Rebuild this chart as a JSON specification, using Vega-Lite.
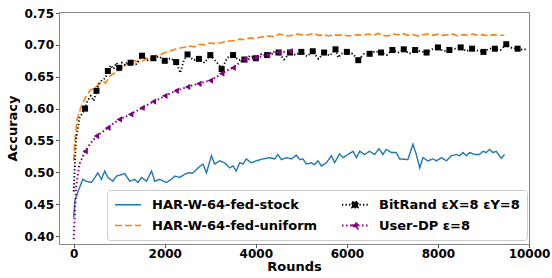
{
  "$schema": "https://vega.github.io/schema/vega-lite/v6.json",
  "width": 470,
  "height": 232,
  "autosize": "none",
  "padding": {"left": 59, "top": 12, "right": 23, "bottom": 34},
  "config": {
    "view": {"stroke": "#888888", "strokeWidth": 1},
    "font": "DejaVu Sans",
    "axis": {
      "grid": false, "domain": false, "tickColor": "#555555", "tickSize": 3.5,
      "labelFont": "DejaVu Sans", "labelFontWeight": "bold", "labelFontSize": 12, "labelColor": "#000000",
      "titleFont": "DejaVu Sans", "titleFontWeight": "bold", "titleFontSize": 13, "titleColor": "#000000"
    }
  },
  "data": {
    "values": [
      {"series": "HAR-W-64-fed-stock", "round": 0, "accuracy": 0.429},
      {"series": "HAR-W-64-fed-stock", "round": 25, "accuracy": 0.455},
      {"series": "HAR-W-64-fed-stock", "round": 100, "accuracy": 0.471},
      {"series": "HAR-W-64-fed-stock", "round": 200, "accuracy": 0.489},
      {"series": "HAR-W-64-fed-stock", "round": 275, "accuracy": 0.486},
      {"series": "HAR-W-64-fed-stock", "round": 390, "accuracy": 0.484},
      {"series": "HAR-W-64-fed-stock", "round": 530, "accuracy": 0.499},
      {"series": "HAR-W-64-fed-stock", "round": 610, "accuracy": 0.489},
      {"series": "HAR-W-64-fed-stock", "round": 680, "accuracy": 0.502},
      {"series": "HAR-W-64-fed-stock", "round": 750, "accuracy": 0.492},
      {"series": "HAR-W-64-fed-stock", "round": 860, "accuracy": 0.486},
      {"series": "HAR-W-64-fed-stock", "round": 940, "accuracy": 0.494},
      {"series": "HAR-W-64-fed-stock", "round": 1120, "accuracy": 0.498},
      {"series": "HAR-W-64-fed-stock", "round": 1230, "accuracy": 0.486},
      {"series": "HAR-W-64-fed-stock", "round": 1340, "accuracy": 0.489},
      {"series": "HAR-W-64-fed-stock", "round": 1410, "accuracy": 0.484},
      {"series": "HAR-W-64-fed-stock", "round": 1490, "accuracy": 0.492},
      {"series": "HAR-W-64-fed-stock", "round": 1600, "accuracy": 0.486},
      {"series": "HAR-W-64-fed-stock", "round": 1710, "accuracy": 0.502},
      {"series": "HAR-W-64-fed-stock", "round": 1780, "accuracy": 0.486},
      {"series": "HAR-W-64-fed-stock", "round": 1890, "accuracy": 0.489},
      {"series": "HAR-W-64-fed-stock", "round": 2035, "accuracy": 0.484},
      {"series": "HAR-W-64-fed-stock", "round": 2145, "accuracy": 0.489},
      {"series": "HAR-W-64-fed-stock", "round": 2220, "accuracy": 0.494},
      {"series": "HAR-W-64-fed-stock", "round": 2330, "accuracy": 0.492},
      {"series": "HAR-W-64-fed-stock", "round": 2440, "accuracy": 0.497},
      {"series": "HAR-W-64-fed-stock", "round": 2510, "accuracy": 0.499},
      {"series": "HAR-W-64-fed-stock", "round": 2620, "accuracy": 0.499},
      {"series": "HAR-W-64-fed-stock", "round": 2730, "accuracy": 0.507},
      {"series": "HAR-W-64-fed-stock", "round": 2840, "accuracy": 0.513},
      {"series": "HAR-W-64-fed-stock", "round": 2915, "accuracy": 0.499},
      {"series": "HAR-W-64-fed-stock", "round": 3025, "accuracy": 0.526},
      {"series": "HAR-W-64-fed-stock", "round": 3095, "accuracy": 0.513},
      {"series": "HAR-W-64-fed-stock", "round": 3205, "accuracy": 0.518},
      {"series": "HAR-W-64-fed-stock", "round": 3315, "accuracy": 0.515},
      {"series": "HAR-W-64-fed-stock", "round": 3425, "accuracy": 0.507},
      {"series": "HAR-W-64-fed-stock", "round": 3500, "accuracy": 0.51},
      {"series": "HAR-W-64-fed-stock", "round": 3570, "accuracy": 0.502},
      {"series": "HAR-W-64-fed-stock", "round": 3645, "accuracy": 0.515},
      {"series": "HAR-W-64-fed-stock", "round": 3720, "accuracy": 0.513},
      {"series": "HAR-W-64-fed-stock", "round": 3790, "accuracy": 0.521},
      {"series": "HAR-W-64-fed-stock", "round": 3900, "accuracy": 0.515},
      {"series": "HAR-W-64-fed-stock", "round": 4010, "accuracy": 0.518},
      {"series": "HAR-W-64-fed-stock", "round": 4155, "accuracy": 0.521},
      {"series": "HAR-W-64-fed-stock", "round": 4305, "accuracy": 0.523},
      {"series": "HAR-W-64-fed-stock", "round": 4415, "accuracy": 0.521},
      {"series": "HAR-W-64-fed-stock", "round": 4485, "accuracy": 0.528},
      {"series": "HAR-W-64-fed-stock", "round": 4560, "accuracy": 0.52},
      {"series": "HAR-W-64-fed-stock", "round": 4670, "accuracy": 0.523},
      {"series": "HAR-W-64-fed-stock", "round": 4780, "accuracy": 0.521},
      {"series": "HAR-W-64-fed-stock", "round": 4890, "accuracy": 0.527},
      {"series": "HAR-W-64-fed-stock", "round": 4965, "accuracy": 0.52},
      {"series": "HAR-W-64-fed-stock", "round": 5035, "accuracy": 0.521},
      {"series": "HAR-W-64-fed-stock", "round": 5110, "accuracy": 0.513},
      {"series": "HAR-W-64-fed-stock", "round": 5220, "accuracy": 0.515},
      {"series": "HAR-W-64-fed-stock", "round": 5290, "accuracy": 0.512},
      {"series": "HAR-W-64-fed-stock", "round": 5365, "accuracy": 0.518},
      {"series": "HAR-W-64-fed-stock", "round": 5440, "accuracy": 0.51},
      {"series": "HAR-W-64-fed-stock", "round": 5550, "accuracy": 0.515},
      {"series": "HAR-W-64-fed-stock", "round": 5660, "accuracy": 0.526},
      {"series": "HAR-W-64-fed-stock", "round": 5730, "accuracy": 0.515},
      {"series": "HAR-W-64-fed-stock", "round": 5840, "accuracy": 0.529},
      {"series": "HAR-W-64-fed-stock", "round": 5915, "accuracy": 0.523},
      {"series": "HAR-W-64-fed-stock", "round": 6025, "accuracy": 0.528},
      {"series": "HAR-W-64-fed-stock", "round": 6135, "accuracy": 0.533},
      {"series": "HAR-W-64-fed-stock", "round": 6210, "accuracy": 0.523},
      {"series": "HAR-W-64-fed-stock", "round": 6280, "accuracy": 0.533},
      {"series": "HAR-W-64-fed-stock", "round": 6390, "accuracy": 0.528},
      {"series": "HAR-W-64-fed-stock", "round": 6500, "accuracy": 0.533},
      {"series": "HAR-W-64-fed-stock", "round": 6610, "accuracy": 0.528},
      {"series": "HAR-W-64-fed-stock", "round": 6705, "accuracy": 0.537},
      {"series": "HAR-W-64-fed-stock", "round": 6790, "accuracy": 0.528},
      {"series": "HAR-W-64-fed-stock", "round": 6865, "accuracy": 0.536},
      {"series": "HAR-W-64-fed-stock", "round": 6975, "accuracy": 0.531},
      {"series": "HAR-W-64-fed-stock", "round": 7085, "accuracy": 0.531},
      {"series": "HAR-W-64-fed-stock", "round": 7160, "accuracy": 0.521},
      {"series": "HAR-W-64-fed-stock", "round": 7340, "accuracy": 0.52},
      {"series": "HAR-W-64-fed-stock", "round": 7450, "accuracy": 0.544},
      {"series": "HAR-W-64-fed-stock", "round": 7525, "accuracy": 0.528},
      {"series": "HAR-W-64-fed-stock", "round": 7600, "accuracy": 0.507},
      {"series": "HAR-W-64-fed-stock", "round": 7670, "accuracy": 0.523},
      {"series": "HAR-W-64-fed-stock", "round": 7780, "accuracy": 0.518},
      {"series": "HAR-W-64-fed-stock", "round": 7890, "accuracy": 0.521},
      {"series": "HAR-W-64-fed-stock", "round": 7965, "accuracy": 0.518},
      {"series": "HAR-W-64-fed-stock", "round": 8075, "accuracy": 0.523},
      {"series": "HAR-W-64-fed-stock", "round": 8185, "accuracy": 0.518},
      {"series": "HAR-W-64-fed-stock", "round": 8295, "accuracy": 0.526},
      {"series": "HAR-W-64-fed-stock", "round": 8405, "accuracy": 0.528},
      {"series": "HAR-W-64-fed-stock", "round": 8475, "accuracy": 0.526},
      {"series": "HAR-W-64-fed-stock", "round": 8550, "accuracy": 0.531},
      {"series": "HAR-W-64-fed-stock", "round": 8625, "accuracy": 0.526},
      {"series": "HAR-W-64-fed-stock", "round": 8695, "accuracy": 0.531},
      {"series": "HAR-W-64-fed-stock", "round": 8805, "accuracy": 0.528},
      {"series": "HAR-W-64-fed-stock", "round": 8915, "accuracy": 0.528},
      {"series": "HAR-W-64-fed-stock", "round": 8990, "accuracy": 0.533},
      {"series": "HAR-W-64-fed-stock", "round": 9060, "accuracy": 0.531},
      {"series": "HAR-W-64-fed-stock", "round": 9135, "accuracy": 0.536},
      {"series": "HAR-W-64-fed-stock", "round": 9205, "accuracy": 0.531},
      {"series": "HAR-W-64-fed-stock", "round": 9280, "accuracy": 0.533},
      {"series": "HAR-W-64-fed-stock", "round": 9390, "accuracy": 0.522},
      {"series": "HAR-W-64-fed-stock", "round": 9465, "accuracy": 0.528},

      {"series": "HAR-W-64-fed-uniform", "round": 0, "accuracy": 0.518},
      {"series": "HAR-W-64-fed-uniform", "round": 25, "accuracy": 0.549},
      {"series": "HAR-W-64-fed-uniform", "round": 75, "accuracy": 0.583},
      {"series": "HAR-W-64-fed-uniform", "round": 150, "accuracy": 0.6},
      {"series": "HAR-W-64-fed-uniform", "round": 250, "accuracy": 0.617},
      {"series": "HAR-W-64-fed-uniform", "round": 350, "accuracy": 0.628},
      {"series": "HAR-W-64-fed-uniform", "round": 500, "accuracy": 0.635},
      {"series": "HAR-W-64-fed-uniform", "round": 640, "accuracy": 0.643},
      {"series": "HAR-W-64-fed-uniform", "round": 700, "accuracy": 0.64},
      {"series": "HAR-W-64-fed-uniform", "round": 790, "accuracy": 0.651},
      {"series": "HAR-W-64-fed-uniform", "round": 970, "accuracy": 0.659},
      {"series": "HAR-W-64-fed-uniform", "round": 1150, "accuracy": 0.67},
      {"series": "HAR-W-64-fed-uniform", "round": 1250, "accuracy": 0.668},
      {"series": "HAR-W-64-fed-uniform", "round": 1340, "accuracy": 0.675},
      {"series": "HAR-W-64-fed-uniform", "round": 1450, "accuracy": 0.672},
      {"series": "HAR-W-64-fed-uniform", "round": 1560, "accuracy": 0.677},
      {"series": "HAR-W-64-fed-uniform", "round": 1650, "accuracy": 0.68},
      {"series": "HAR-W-64-fed-uniform", "round": 1780, "accuracy": 0.683},
      {"series": "HAR-W-64-fed-uniform", "round": 1900, "accuracy": 0.684},
      {"series": "HAR-W-64-fed-uniform", "round": 2000, "accuracy": 0.688},
      {"series": "HAR-W-64-fed-uniform", "round": 2110, "accuracy": 0.69},
      {"series": "HAR-W-64-fed-uniform", "round": 2220, "accuracy": 0.693},
      {"series": "HAR-W-64-fed-uniform", "round": 2330, "accuracy": 0.695},
      {"series": "HAR-W-64-fed-uniform", "round": 2400, "accuracy": 0.696},
      {"series": "HAR-W-64-fed-uniform", "round": 2550, "accuracy": 0.698},
      {"series": "HAR-W-64-fed-uniform", "round": 2650, "accuracy": 0.697},
      {"series": "HAR-W-64-fed-uniform", "round": 2770, "accuracy": 0.701},
      {"series": "HAR-W-64-fed-uniform", "round": 2880, "accuracy": 0.7},
      {"series": "HAR-W-64-fed-uniform", "round": 2990, "accuracy": 0.703},
      {"series": "HAR-W-64-fed-uniform", "round": 3100, "accuracy": 0.702},
      {"series": "HAR-W-64-fed-uniform", "round": 3210, "accuracy": 0.703},
      {"series": "HAR-W-64-fed-uniform", "round": 3320, "accuracy": 0.705},
      {"series": "HAR-W-64-fed-uniform", "round": 3430, "accuracy": 0.706},
      {"series": "HAR-W-64-fed-uniform", "round": 3540, "accuracy": 0.707},
      {"series": "HAR-W-64-fed-uniform", "round": 3650, "accuracy": 0.709},
      {"series": "HAR-W-64-fed-uniform", "round": 3760, "accuracy": 0.708},
      {"series": "HAR-W-64-fed-uniform", "round": 3870, "accuracy": 0.711},
      {"series": "HAR-W-64-fed-uniform", "round": 3980, "accuracy": 0.71},
      {"series": "HAR-W-64-fed-uniform", "round": 4090, "accuracy": 0.712},
      {"series": "HAR-W-64-fed-uniform", "round": 4200, "accuracy": 0.713},
      {"series": "HAR-W-64-fed-uniform", "round": 4300, "accuracy": 0.714},
      {"series": "HAR-W-64-fed-uniform", "round": 4410, "accuracy": 0.713},
      {"series": "HAR-W-64-fed-uniform", "round": 4520, "accuracy": 0.717},
      {"series": "HAR-W-64-fed-uniform", "round": 4630, "accuracy": 0.715},
      {"series": "HAR-W-64-fed-uniform", "round": 4740, "accuracy": 0.714},
      {"series": "HAR-W-64-fed-uniform", "round": 4850, "accuracy": 0.716},
      {"series": "HAR-W-64-fed-uniform", "round": 4930, "accuracy": 0.717},
      {"series": "HAR-W-64-fed-uniform", "round": 5050, "accuracy": 0.715},
      {"series": "HAR-W-64-fed-uniform", "round": 5160, "accuracy": 0.716},
      {"series": "HAR-W-64-fed-uniform", "round": 5270, "accuracy": 0.718},
      {"series": "HAR-W-64-fed-uniform", "round": 5380, "accuracy": 0.715},
      {"series": "HAR-W-64-fed-uniform", "round": 5490, "accuracy": 0.716},
      {"series": "HAR-W-64-fed-uniform", "round": 5600, "accuracy": 0.714},
      {"series": "HAR-W-64-fed-uniform", "round": 5700, "accuracy": 0.716},
      {"series": "HAR-W-64-fed-uniform", "round": 5810, "accuracy": 0.715},
      {"series": "HAR-W-64-fed-uniform", "round": 5920, "accuracy": 0.716},
      {"series": "HAR-W-64-fed-uniform", "round": 6030, "accuracy": 0.714},
      {"series": "HAR-W-64-fed-uniform", "round": 6140, "accuracy": 0.715},
      {"series": "HAR-W-64-fed-uniform", "round": 6250, "accuracy": 0.716},
      {"series": "HAR-W-64-fed-uniform", "round": 6360, "accuracy": 0.715},
      {"series": "HAR-W-64-fed-uniform", "round": 6470, "accuracy": 0.717},
      {"series": "HAR-W-64-fed-uniform", "round": 6580, "accuracy": 0.715},
      {"series": "HAR-W-64-fed-uniform", "round": 6690, "accuracy": 0.718},
      {"series": "HAR-W-64-fed-uniform", "round": 6800, "accuracy": 0.715},
      {"series": "HAR-W-64-fed-uniform", "round": 6900, "accuracy": 0.714},
      {"series": "HAR-W-64-fed-uniform", "round": 7000, "accuracy": 0.717},
      {"series": "HAR-W-64-fed-uniform", "round": 7120, "accuracy": 0.716},
      {"series": "HAR-W-64-fed-uniform", "round": 7230, "accuracy": 0.718},
      {"series": "HAR-W-64-fed-uniform", "round": 7340, "accuracy": 0.715},
      {"series": "HAR-W-64-fed-uniform", "round": 7450, "accuracy": 0.716},
      {"series": "HAR-W-64-fed-uniform", "round": 7560, "accuracy": 0.714},
      {"series": "HAR-W-64-fed-uniform", "round": 7670, "accuracy": 0.716},
      {"series": "HAR-W-64-fed-uniform", "round": 7780, "accuracy": 0.717},
      {"series": "HAR-W-64-fed-uniform", "round": 7890, "accuracy": 0.715},
      {"series": "HAR-W-64-fed-uniform", "round": 8000, "accuracy": 0.717},
      {"series": "HAR-W-64-fed-uniform", "round": 8110, "accuracy": 0.715},
      {"series": "HAR-W-64-fed-uniform", "round": 8220, "accuracy": 0.716},
      {"series": "HAR-W-64-fed-uniform", "round": 8330, "accuracy": 0.717},
      {"series": "HAR-W-64-fed-uniform", "round": 8440, "accuracy": 0.714},
      {"series": "HAR-W-64-fed-uniform", "round": 8550, "accuracy": 0.716},
      {"series": "HAR-W-64-fed-uniform", "round": 8660, "accuracy": 0.715},
      {"series": "HAR-W-64-fed-uniform", "round": 8770, "accuracy": 0.717},
      {"series": "HAR-W-64-fed-uniform", "round": 8880, "accuracy": 0.715},
      {"series": "HAR-W-64-fed-uniform", "round": 8990, "accuracy": 0.716},
      {"series": "HAR-W-64-fed-uniform", "round": 9100, "accuracy": 0.714},
      {"series": "HAR-W-64-fed-uniform", "round": 9210, "accuracy": 0.716},
      {"series": "HAR-W-64-fed-uniform", "round": 9320, "accuracy": 0.715},
      {"series": "HAR-W-64-fed-uniform", "round": 9460, "accuracy": 0.715},

      {"series": "BitRand εX=8 εY=8", "round": 0, "accuracy": 0.47},
      {"series": "BitRand εX=8 εY=8", "round": 50, "accuracy": 0.55},
      {"series": "BitRand εX=8 εY=8", "round": 125, "accuracy": 0.585},
      {"series": "BitRand εX=8 εY=8", "round": 250, "accuracy": 0.6},
      {"series": "BitRand εX=8 εY=8", "round": 300, "accuracy": 0.612},
      {"series": "BitRand εX=8 εY=8", "round": 375, "accuracy": 0.62},
      {"series": "BitRand εX=8 εY=8", "round": 440, "accuracy": 0.612},
      {"series": "BitRand εX=8 εY=8", "round": 500, "accuracy": 0.628},
      {"series": "BitRand εX=8 εY=8", "round": 560, "accuracy": 0.64},
      {"series": "BitRand εX=8 εY=8", "round": 625, "accuracy": 0.645},
      {"series": "BitRand εX=8 εY=8", "round": 700, "accuracy": 0.648},
      {"series": "BitRand εX=8 εY=8", "round": 750, "accuracy": 0.659},
      {"series": "BitRand εX=8 εY=8", "round": 810, "accuracy": 0.668},
      {"series": "BitRand εX=8 εY=8", "round": 875, "accuracy": 0.662},
      {"series": "BitRand εX=8 εY=8", "round": 940, "accuracy": 0.672},
      {"series": "BitRand εX=8 εY=8", "round": 1000, "accuracy": 0.664},
      {"series": "BitRand εX=8 εY=8", "round": 1060, "accuracy": 0.672},
      {"series": "BitRand εX=8 εY=8", "round": 1125, "accuracy": 0.668},
      {"series": "BitRand εX=8 εY=8", "round": 1190, "accuracy": 0.674},
      {"series": "BitRand εX=8 εY=8", "round": 1250, "accuracy": 0.672},
      {"series": "BitRand εX=8 εY=8", "round": 1375, "accuracy": 0.67},
      {"series": "BitRand εX=8 εY=8", "round": 1500, "accuracy": 0.683},
      {"series": "BitRand εX=8 εY=8", "round": 1625, "accuracy": 0.676},
      {"series": "BitRand εX=8 εY=8", "round": 1750, "accuracy": 0.679},
      {"series": "BitRand εX=8 εY=8", "round": 1875, "accuracy": 0.682},
      {"series": "BitRand εX=8 εY=8", "round": 2000, "accuracy": 0.675},
      {"series": "BitRand εX=8 εY=8", "round": 2125, "accuracy": 0.679},
      {"series": "BitRand εX=8 εY=8", "round": 2250, "accuracy": 0.673},
      {"series": "BitRand εX=8 εY=8", "round": 2340, "accuracy": 0.656},
      {"series": "BitRand εX=8 εY=8", "round": 2420, "accuracy": 0.676},
      {"series": "BitRand εX=8 εY=8", "round": 2500, "accuracy": 0.685},
      {"series": "BitRand εX=8 εY=8", "round": 2625, "accuracy": 0.676},
      {"series": "BitRand εX=8 εY=8", "round": 2750, "accuracy": 0.678},
      {"series": "BitRand εX=8 εY=8", "round": 2875, "accuracy": 0.672},
      {"series": "BitRand εX=8 εY=8", "round": 3000, "accuracy": 0.684},
      {"series": "BitRand εX=8 εY=8", "round": 3125, "accuracy": 0.674},
      {"series": "BitRand εX=8 εY=8", "round": 3190, "accuracy": 0.669},
      {"series": "BitRand εX=8 εY=8", "round": 3250, "accuracy": 0.662},
      {"series": "BitRand εX=8 εY=8", "round": 3375, "accuracy": 0.68},
      {"series": "BitRand εX=8 εY=8", "round": 3500, "accuracy": 0.684},
      {"series": "BitRand εX=8 εY=8", "round": 3625, "accuracy": 0.676},
      {"series": "BitRand εX=8 εY=8", "round": 3750, "accuracy": 0.677},
      {"series": "BitRand εX=8 εY=8", "round": 3875, "accuracy": 0.683},
      {"series": "BitRand εX=8 εY=8", "round": 4000, "accuracy": 0.679},
      {"series": "BitRand εX=8 εY=8", "round": 4125, "accuracy": 0.686},
      {"series": "BitRand εX=8 εY=8", "round": 4250, "accuracy": 0.684},
      {"series": "BitRand εX=8 εY=8", "round": 4375, "accuracy": 0.689},
      {"series": "BitRand εX=8 εY=8", "round": 4500, "accuracy": 0.688},
      {"series": "BitRand εX=8 εY=8", "round": 4620, "accuracy": 0.677},
      {"series": "BitRand εX=8 εY=8", "round": 4750, "accuracy": 0.688},
      {"series": "BitRand εX=8 εY=8", "round": 4875, "accuracy": 0.684},
      {"series": "BitRand εX=8 εY=8", "round": 5000, "accuracy": 0.689},
      {"series": "BitRand εX=8 εY=8", "round": 5125, "accuracy": 0.682},
      {"series": "BitRand εX=8 εY=8", "round": 5250, "accuracy": 0.69},
      {"series": "BitRand εX=8 εY=8", "round": 5375, "accuracy": 0.678},
      {"series": "BitRand εX=8 εY=8", "round": 5500, "accuracy": 0.688},
      {"series": "BitRand εX=8 εY=8", "round": 5625, "accuracy": 0.683},
      {"series": "BitRand εX=8 εY=8", "round": 5750, "accuracy": 0.693},
      {"series": "BitRand εX=8 εY=8", "round": 5810, "accuracy": 0.68},
      {"series": "BitRand εX=8 εY=8", "round": 5875, "accuracy": 0.686},
      {"series": "BitRand εX=8 εY=8", "round": 6000, "accuracy": 0.689},
      {"series": "BitRand εX=8 εY=8", "round": 6125, "accuracy": 0.686},
      {"series": "BitRand εX=8 εY=8", "round": 6250, "accuracy": 0.676},
      {"series": "BitRand εX=8 εY=8", "round": 6375, "accuracy": 0.686},
      {"series": "BitRand εX=8 εY=8", "round": 6500, "accuracy": 0.686},
      {"series": "BitRand εX=8 εY=8", "round": 6625, "accuracy": 0.69},
      {"series": "BitRand εX=8 εY=8", "round": 6750, "accuracy": 0.688},
      {"series": "BitRand εX=8 εY=8", "round": 6875, "accuracy": 0.684},
      {"series": "BitRand εX=8 εY=8", "round": 7000, "accuracy": 0.692},
      {"series": "BitRand εX=8 εY=8", "round": 7125, "accuracy": 0.688},
      {"series": "BitRand εX=8 εY=8", "round": 7250, "accuracy": 0.693},
      {"series": "BitRand εX=8 εY=8", "round": 7375, "accuracy": 0.686},
      {"series": "BitRand εX=8 εY=8", "round": 7500, "accuracy": 0.692},
      {"series": "BitRand εX=8 εY=8", "round": 7625, "accuracy": 0.69},
      {"series": "BitRand εX=8 εY=8", "round": 7750, "accuracy": 0.688},
      {"series": "BitRand εX=8 εY=8", "round": 7875, "accuracy": 0.693},
      {"series": "BitRand εX=8 εY=8", "round": 8000, "accuracy": 0.696},
      {"series": "BitRand εX=8 εY=8", "round": 8125, "accuracy": 0.69},
      {"series": "BitRand εX=8 εY=8", "round": 8250, "accuracy": 0.692},
      {"series": "BitRand εX=8 εY=8", "round": 8375, "accuracy": 0.694},
      {"series": "BitRand εX=8 εY=8", "round": 8500, "accuracy": 0.696},
      {"series": "BitRand εX=8 εY=8", "round": 8625, "accuracy": 0.69},
      {"series": "BitRand εX=8 εY=8", "round": 8750, "accuracy": 0.694},
      {"series": "BitRand εX=8 εY=8", "round": 8875, "accuracy": 0.691},
      {"series": "BitRand εX=8 εY=8", "round": 9000, "accuracy": 0.689},
      {"series": "BitRand εX=8 εY=8", "round": 9125, "accuracy": 0.694},
      {"series": "BitRand εX=8 εY=8", "round": 9250, "accuracy": 0.694},
      {"series": "BitRand εX=8 εY=8", "round": 9375, "accuracy": 0.692},
      {"series": "BitRand εX=8 εY=8", "round": 9500, "accuracy": 0.701},
      {"series": "BitRand εX=8 εY=8", "round": 9625, "accuracy": 0.695},
      {"series": "BitRand εX=8 εY=8", "round": 9750, "accuracy": 0.694},
      {"series": "BitRand εX=8 εY=8", "round": 9875, "accuracy": 0.692},
      {"series": "BitRand εX=8 εY=8", "round": 9950, "accuracy": 0.694},

      {"series": "User-DP ε=8", "round": 0, "accuracy": 0.395},
      {"series": "User-DP ε=8", "round": 50, "accuracy": 0.476},
      {"series": "User-DP ε=8", "round": 125, "accuracy": 0.513},
      {"series": "User-DP ε=8", "round": 250, "accuracy": 0.533},
      {"series": "User-DP ε=8", "round": 375, "accuracy": 0.546},
      {"series": "User-DP ε=8", "round": 500, "accuracy": 0.557},
      {"series": "User-DP ε=8", "round": 625, "accuracy": 0.563},
      {"series": "User-DP ε=8", "round": 750, "accuracy": 0.57},
      {"series": "User-DP ε=8", "round": 875, "accuracy": 0.577},
      {"series": "User-DP ε=8", "round": 1000, "accuracy": 0.583},
      {"series": "User-DP ε=8", "round": 1125, "accuracy": 0.587},
      {"series": "User-DP ε=8", "round": 1250, "accuracy": 0.591},
      {"series": "User-DP ε=8", "round": 1375, "accuracy": 0.596},
      {"series": "User-DP ε=8", "round": 1500, "accuracy": 0.601},
      {"series": "User-DP ε=8", "round": 1625, "accuracy": 0.606},
      {"series": "User-DP ε=8", "round": 1750, "accuracy": 0.611},
      {"series": "User-DP ε=8", "round": 1875, "accuracy": 0.615},
      {"series": "User-DP ε=8", "round": 2000, "accuracy": 0.62},
      {"series": "User-DP ε=8", "round": 2125, "accuracy": 0.624},
      {"series": "User-DP ε=8", "round": 2250, "accuracy": 0.628},
      {"series": "User-DP ε=8", "round": 2375, "accuracy": 0.631},
      {"series": "User-DP ε=8", "round": 2500, "accuracy": 0.634},
      {"series": "User-DP ε=8", "round": 2625, "accuracy": 0.637},
      {"series": "User-DP ε=8", "round": 2750, "accuracy": 0.639},
      {"series": "User-DP ε=8", "round": 2875, "accuracy": 0.642},
      {"series": "User-DP ε=8", "round": 3000, "accuracy": 0.644},
      {"series": "User-DP ε=8", "round": 3125, "accuracy": 0.649},
      {"series": "User-DP ε=8", "round": 3250, "accuracy": 0.655},
      {"series": "User-DP ε=8", "round": 3375, "accuracy": 0.66},
      {"series": "User-DP ε=8", "round": 3500, "accuracy": 0.664},
      {"series": "User-DP ε=8", "round": 3625, "accuracy": 0.671},
      {"series": "User-DP ε=8", "round": 3750, "accuracy": 0.677},
      {"series": "User-DP ε=8", "round": 3875, "accuracy": 0.678},
      {"series": "User-DP ε=8", "round": 4000, "accuracy": 0.68},
      {"series": "User-DP ε=8", "round": 4125, "accuracy": 0.682},
      {"series": "User-DP ε=8", "round": 4250, "accuracy": 0.684},
      {"series": "User-DP ε=8", "round": 4375, "accuracy": 0.686},
      {"series": "User-DP ε=8", "round": 4500, "accuracy": 0.688},
      {"series": "User-DP ε=8", "round": 4625, "accuracy": 0.689},
      {"series": "User-DP ε=8", "round": 4750, "accuracy": 0.69},
      {"series": "User-DP ε=8", "round": 4800, "accuracy": 0.69}
    ]
  },
  "encoding": {
    "x": {
      "field": "round", "type": "quantitative",
      "scale": {"domain": [-323, 10000], "nice": false, "zero": false},
      "axis": {"title": "Rounds", "values": [0, 2000, 4000, 6000, 8000, 10000], "format": "d", "labelPadding": 0.5, "titlePadding": 1, "labelFlush": false}
    },
    "y": {
      "field": "accuracy", "type": "quantitative",
      "scale": {"domain": [0.3875, 0.7516], "nice": false, "zero": false},
      "axis": {"title": "Accuracy", "values": [0.4, 0.45, 0.5, 0.55, 0.6, 0.65, 0.7, 0.75], "format": ".2f", "labelPadding": 2, "titlePadding": 4, "labelFlush": false}
    }
  },
  "layer": [
    {
      "mark": {"type": "line", "interpolate": "linear"},
      "encoding": {
        "color": {
          "field": "series", "type": "nominal", "title": null,
          "scale": {
            "domain": ["HAR-W-64-fed-stock", "HAR-W-64-fed-uniform", "BitRand εX=8 εY=8", "User-DP ε=8"],
            "range": ["#1f77b4", "#ff7f0e", "#000000", "#800080"]
          },
          "legend": {
            "orient": "none", "legendX": 48, "legendY": 178, "direction": "vertical", "columns": 2,
            "symbolType": "stroke", "symbolSize": 169, "labelFont": "DejaVu Sans", "labelFontWeight": "bold",
            "labelFontSize": 13, "labelColor": "#000000", "labelLimit": 400, "labelOffset": 23,
            "fillColor": "#ffffff", "strokeColor": "#cccccc", "cornerRadius": 3, "padding": 7,
            "rowPadding": 6, "columnPadding": 20,
            "encode": {
              "symbols": {
                "update": {
                  "shape": {"signal": "datum.value === 'BitRand εX=8 εY=8' ? 'M-1,0H3M0.55,-0.45H1.45V0.45H0.55Z' : datum.value === 'User-DP ε=8' ? 'M-1,0H3M0.5,0L1.4,-0.46L1.4,0.46Z' : 'M-1,0H3'"},
                  "fill": {"signal": "datum.value === 'BitRand εX=8 εY=8' ? '#000000' : datum.value === 'User-DP ε=8' ? '#800080' : 'transparent'"},
                  "strokeWidth": {"signal": "datum.value === 'BitRand εX=8 εY=8' || datum.value === 'User-DP ε=8' ? 2 : 2.5"}
                }
              }
            }
          }
        },
        "strokeDash": {
          "field": "series", "type": "nominal", "title": null,
          "scale": {
            "domain": ["HAR-W-64-fed-stock", "HAR-W-64-fed-uniform", "BitRand εX=8 εY=8", "User-DP ε=8"],
            "range": [[1, 0], [7, 3], [1.3, 2.2], [1.5, 2.5]]
          }
        },
        "strokeWidth": {
          "field": "series", "type": "nominal", "title": null,
          "scale": {
            "domain": ["HAR-W-64-fed-stock", "HAR-W-64-fed-uniform", "BitRand εX=8 εY=8", "User-DP ε=8"],
            "range": [1.4, 2, 1.4, 1.6]
          }
        }
      }
    },
    {
      "transform": [
        {"filter": {"field": "series", "equal": "BitRand εX=8 εY=8"}},
        {"filter": "datum.round > 0 && datum.round % 250 == 0"}
      ],
      "mark": {"type": "point", "shape": "square", "filled": true, "color": "#000000", "size": 36, "opacity": 1}
    },
    {
      "transform": [
        {"filter": {"field": "series", "equal": "User-DP ε=8"}},
        {"filter": "datum.round > 0 && datum.round % 250 == 0"}
      ],
      "mark": {"type": "point", "shape": "triangle-left", "filled": true, "color": "#800080", "size": 40, "opacity": 1}
    }
  ]
}
